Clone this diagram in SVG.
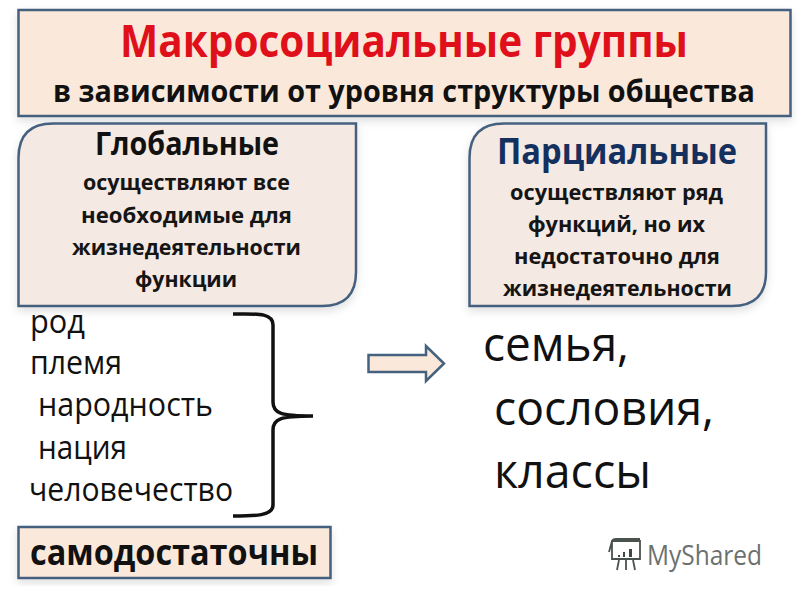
<svg xmlns="http://www.w3.org/2000/svg" width="800" height="600" viewBox="0 0 800 600">
<defs>
<style>
text{font-family:"Open Sans","Noto Sans","Liberation Sans",sans-serif;text-anchor:start}
.box{stroke:#44617f;stroke-width:2.5}
.peach{fill:#fae8da}
.pale{fill:#f5e9e3}
.b{font-weight:700;fill:#111}
.sm{font-size:22px;font-weight:700;fill:#151515}
.list{font-size:32px;fill:#111}
.big{font-size:48px;fill:#111}
.brace{fill:none;stroke:#111;stroke-width:3.5}
</style>
<filter id="sh" x="-5%" y="-5%" width="110%" height="120%"><feDropShadow dx="0" dy="4" stdDeviation="4" flood-color="#000" flood-opacity="0.12"/></filter>
</defs>
<rect width="800" height="600" fill="#fff"/>
<g id="title">
<rect class="box peach" x="18.500" y="10" width="772" height="106" filter="url(#sh)"/>
<text x="120" y="57" font-size="44" font-weight="700" fill="#e0101a" textLength="568" lengthAdjust="spacingAndGlyphs">Макросоциальные группы</text>
<text class="b" x="53" y="102" font-size="30" textLength="702" lengthAdjust="spacingAndGlyphs">в зависимости от уровня структуры общества</text>
</g>
<g id="global">
<path class="box pale" d="M18.500 306V158Q18.500 123.500 53 123.500H356V272Q356 306 322 306Z" filter="url(#sh)"/>
<text class="b" x="95" y="155" font-size="32" textLength="184" lengthAdjust="spacingAndGlyphs">Глобальные</text>
<text class="sm" x="83" y="190" textLength="207" lengthAdjust="spacingAndGlyphs">осуществляют все</text>
<text class="sm" x="81" y="223" textLength="211" lengthAdjust="spacingAndGlyphs">необходимые для</text>
<text class="sm" x="72" y="255" textLength="229" lengthAdjust="spacingAndGlyphs">жизнедеятельности</text>
<text class="sm" x="135" y="287" textLength="102" lengthAdjust="spacingAndGlyphs">функции</text>
</g>
<g id="partial">
<path class="box pale" d="M469.500 306V158Q469.500 123.500 504 123.500H766V272Q766 306 732 306Z" filter="url(#sh)"/>
<text x="497" y="164" font-size="36" font-weight="700" fill="#14305f" textLength="240" lengthAdjust="spacingAndGlyphs">Парциальные</text>
<text class="sm" x="510" y="200" textLength="213" lengthAdjust="spacingAndGlyphs">осуществляют ряд</text>
<text class="sm" x="528" y="232" textLength="177" lengthAdjust="spacingAndGlyphs">функций, но их</text>
<text class="sm" x="514" y="264" textLength="206" lengthAdjust="spacingAndGlyphs">недостаточно для</text>
<text class="sm" x="503" y="296" textLength="229" lengthAdjust="spacingAndGlyphs">жизнедеятельности</text>
</g>
<g id="list">
<text class="list" x="30" y="333" textLength="55" lengthAdjust="spacingAndGlyphs">род</text>
<text class="list" x="30" y="374" textLength="92" lengthAdjust="spacingAndGlyphs">племя</text>
<text class="list" x="38" y="416" textLength="175" lengthAdjust="spacingAndGlyphs">народность</text>
<text class="list" x="38" y="459" textLength="89" lengthAdjust="spacingAndGlyphs">нация</text>
<text class="list" x="29" y="501" textLength="204" lengthAdjust="spacingAndGlyphs">человечество</text>
</g>
<g id="connectors">
<path class="brace" d="M233 314C255 314 273 312 273 325V402C273 413 280 416 313 416C280 416 273 419 273 430V505C273 516 255 516 233 516"/>
<path d="M368.500 355H426V346L444 363.500L426 381V372H368.500Z" fill="#fae8da" stroke="#44617f" stroke-width="2.500"/>
</g>
<g id="right-list">
<text class="big" x="483" y="361" textLength="146" lengthAdjust="spacingAndGlyphs">семья,</text>
<text class="big" x="494" y="425" textLength="220" lengthAdjust="spacingAndGlyphs">сословия,</text>
<text class="big" x="494" y="488" textLength="157" lengthAdjust="spacingAndGlyphs">классы</text>
</g>
<g id="self-sufficient">
<rect class="box peach" x="18.500" y="527" width="312" height="51" filter="url(#sh)"/>
<text class="b" x="30" y="565" font-size="36" textLength="288" lengthAdjust="spacingAndGlyphs">самодостаточны</text>
</g>
<g id="watermark">
<path d="M612 541H640V559H612ZM609 552L612 541Q613 539 616 539H640M617 570L619 560M626 570V560M635 570L633 560" fill="none" stroke="#4a524e" stroke-width="1.800"/>
<path d="M618 555h2v2h-2zM623 552h2v5h-2zM629 549h3v8h-3z" fill="#3d4a44"/>
<text x="647" y="565" font-size="27" fill="#6b716e" textLength="115" lengthAdjust="spacingAndGlyphs">MyShared</text>
</g>
</svg>
